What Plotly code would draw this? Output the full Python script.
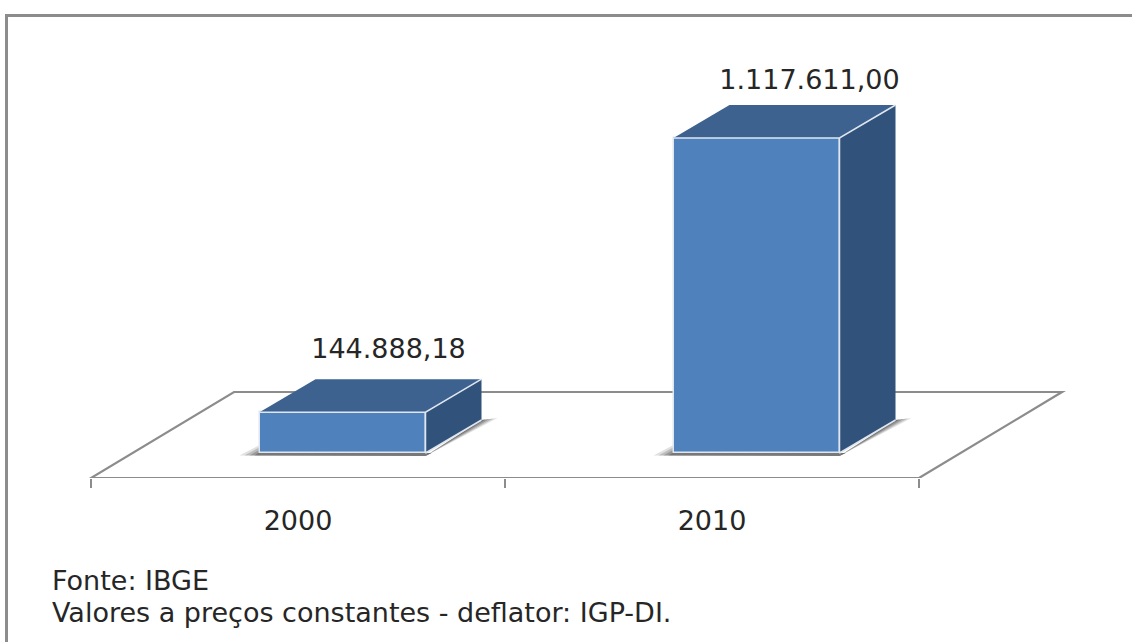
import plotly.graph_objects as go

# ---- data ----
categories = ["2000", "2010"]
values = [144888.18, 1117611.00]
note_lines = ["Fonte: IBGE", "Valores a preços constantes - deflator: IGP-DI."]

# ---- layout scale (pixels of the picture) ----
W, H = 1132, 642
FLOOR_PX, ZERO_PX, CAT0_PX, CAT_PX = 478, 453, 298, 414
VAL_PER_PX = values[1] / 315
ux = 1 / CAT_PX
uy = VAL_PER_PX

DX, DY = 56 * ux, 33 * uy          # depth of each bar
BAR_W = 166 * ux
BAR_SHIFT = 44.5 * ux
FRONT = "#4f81bd"
TOP = "#3d628f"
SIDE = "#31527a"
EDGE = "#dfe6ef"
AXIS = "#8c8c8c"
TEXT = "#262626"
FONT = "DejaVu Sans"

fig = go.Figure()
shapes = []


def path(xs, ys):
    return "M" + "L".join(f"{a},{b}" for a, b in zip(xs, ys)) + "Z"


def poly(xs, ys, fill):
    fig.add_trace(go.Scatter(
        x=xs, y=ys, mode="lines", fill="toself", fillcolor=fill,
        line=dict(color="rgba(0,0,0,0)", width=0),
        hoverinfo="skip", showlegend=False))


def edge(xs, ys):
    fig.add_trace(go.Scatter(
        x=xs, y=ys, mode="lines", line=dict(color=EDGE, width=1.5),
        hoverinfo="skip", showlegend=False))


# floor (parallelogram), below the bars
fx0, fx1 = -0.5, 1.5
fy0 = -(FLOOR_PX - ZERO_PX) * uy
fy1 = fy0 + 86 * uy
fshift = 143 * ux
shapes.append(dict(
    type="path", layer="below", xref="x", yref="y",
    path=path([fx0, fx1, fx1 + fshift, fx0 + fshift], [fy0, fy0, fy1, fy1]),
    line=dict(color=AXIS, width=2.2), fillcolor="white"))

# soft shadows on the floor, in layers, below the bars
bar_x = [i + BAR_SHIFT for i in range(len(categories))]
for b in bar_x:
    left = b - BAR_W / 2
    right = b + BAR_W / 2
    for k, a in zip((1.0, 0.75, 0.5, 0.25), (0.16, 0.22, 0.28, 0.34)):
        shapes.append(dict(
            type="path", layer="below", xref="x", yref="y",
            path=path([right, right + DX + 16 * ux * k, right + DX],
                      [-3 * uy, DY + 5 * uy * k - 3 * uy * k, DY]),
            line=dict(width=0), fillcolor=f"rgba(60,60,60,{a})"))
        shapes.append(dict(
            type="path", layer="below", xref="x", yref="y",
            path=path([left - 20 * ux * k, left + 2 * ux, left + 2 * ux, right + 6 * ux, right],
                      [-2.5 * uy, 9 * uy * k, 0, 0, -3 * uy]),
            line=dict(width=0), fillcolor=f"rgba(60,60,60,{a})"))

# front faces
fig.add_trace(go.Bar(
    x=bar_x, y=values, width=BAR_W, marker=dict(color=FRONT, line=dict(color=EDGE, width=1.5)),
    hoverinfo="skip", showlegend=False))

# top and side faces
for i, v in enumerate(values):
    left = bar_x[i] - BAR_W / 2
    right = bar_x[i] + BAR_W / 2
    poly([left, right, right + DX, left + DX, left],
         [v, v, v + DY, v + DY, v], TOP)
    poly([right, right + DX, right + DX, right, right],
         [0, DY, v + DY, v, 0], SIDE)
    edge([left, right, right + DX], [v, v, v + DY])
    edge([right, right, right + DX], [v, 0, DY])

# value labels
labels = [f"{v:,.2f}".replace(",", "#").replace(".", ",").replace("#", ".") for v in values]
fig.add_trace(go.Scatter(
    x=[bar_x[0] + 46 * ux, bar_x[1] + 53 * ux],
    y=[values[0] + 47 * uy, values[1] + 42 * uy],
    mode="text", text=labels, textposition="top center",
    textfont=dict(family=FONT, size=27, color=TEXT),
    hoverinfo="skip", showlegend=False))

shapes += [
    dict(type="line", xref="paper", yref="paper", x0=6 / W, x1=1,
         y0=(FLOOR_PX - 15.5) / FLOOR_PX, y1=(FLOOR_PX - 15.5) / FLOOR_PX,
         line=dict(color=AXIS, width=3)),
    dict(type="line", xref="paper", yref="paper", x0=6.5 / W, x1=6.5 / W,
         y0=(FLOOR_PX - H) / FLOOR_PX, y1=(FLOOR_PX - 14) / FLOOR_PX,
         line=dict(color=AXIS, width=3)),
]

fig.update_layout(
    width=W, height=H, autosize=False, bargap=0,
    margin=dict(l=0, r=0, t=0, b=H - FLOOR_PX, pad=0),
    paper_bgcolor="white", plot_bgcolor="white",
    xaxis=dict(
        range=[-CAT0_PX * ux, (W - CAT0_PX) * ux],
        tickmode="array", tickvals=list(range(len(categories))), ticktext=categories,
        ticks="outside", ticklen=19, tickcolor="rgba(0,0,0,0)",
        tickfont=dict(family=FONT, size=27, color=TEXT),
        minor=dict(tickmode="array", tickvals=[-0.5, 0.5, 1.5], ticks="outside",
                   ticklen=9, tickwidth=2.2, tickcolor=AXIS, showgrid=False),
        showgrid=False, zeroline=False, showline=False),
    yaxis=dict(range=[-(FLOOR_PX - ZERO_PX) * uy, ZERO_PX * uy], visible=False),
    annotations=[
        dict(xref="paper", yref="paper", x=50 / W, xanchor="left",
             y=(FLOOR_PX - py) / FLOOR_PX, yanchor="middle",
             text=t, showarrow=False, align="left",
             font=dict(family=FONT, size=27, color=TEXT))
        for t, py in zip(note_lines, (580, 612))
    ],
    shapes=shapes,
)

fig.write_html("out.html", config={"displayModeBar": False},
               post_script="document.body.style.margin='0';")
